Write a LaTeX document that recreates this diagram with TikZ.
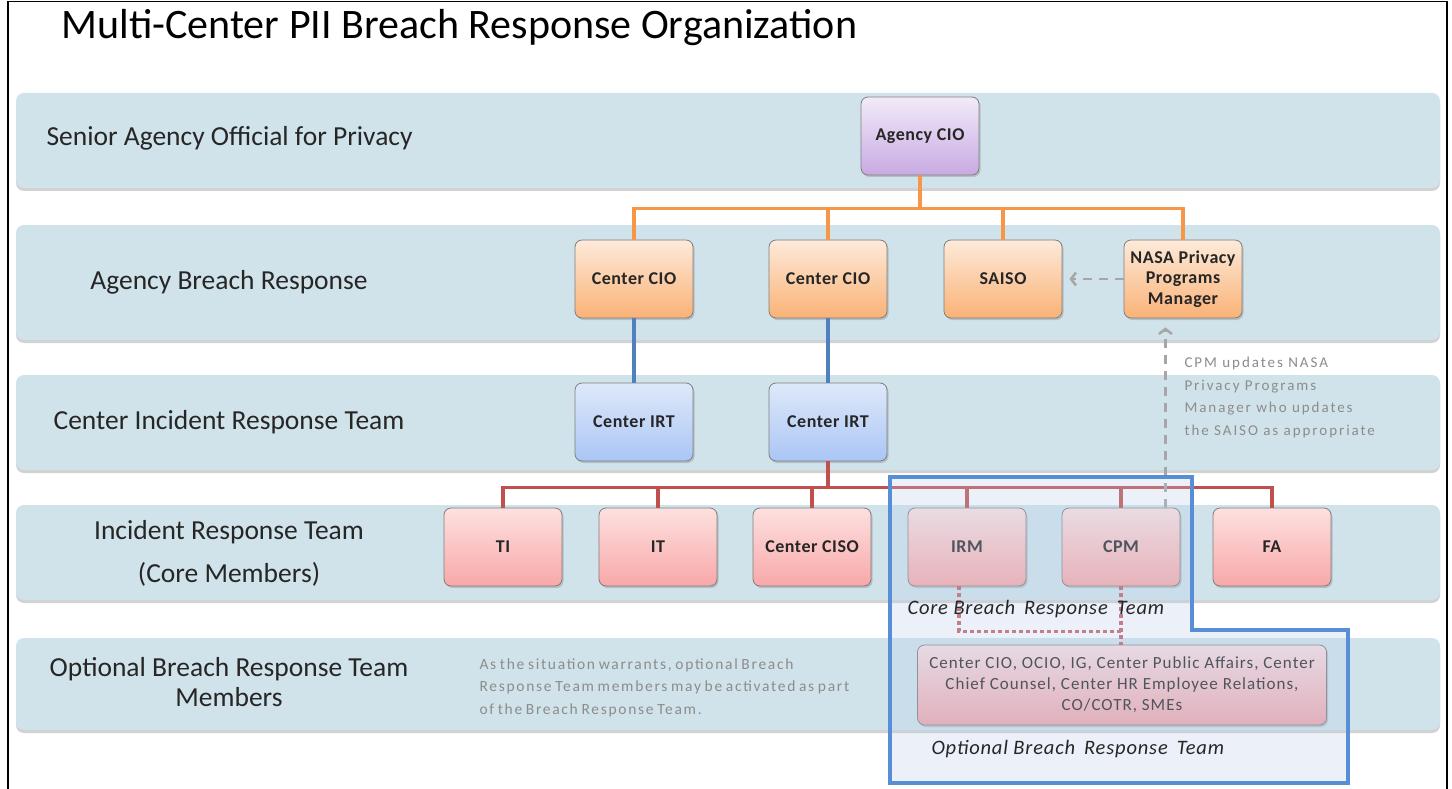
\documentclass[tikz,border=0pt]{standalone}
\usepackage{fontspec}
\setmainfont{Carlito}
\newfontfamily\notefont[LetterSpace=11,WordSpace=0.7]{Carlito}
\newfontfamily\spacedfont[LetterSpace=13]{Carlito}
\newfontfamily\boxfont[LetterSpace=3]{Carlito}
\newfontfamily\optfont[LetterSpace=6]{Carlito}
\newfontfamily\teamfont[LetterSpace=4]{Carlito}
\usetikzlibrary{shadows,arrows.meta,calc}

\definecolor{bandc}{RGB}{209,227,234}
\definecolor{orangeln}{RGB}{247,150,70}
\definecolor{blueln}{RGB}{79,129,189}
\definecolor{redln}{RGB}{192,80,77}
\definecolor{dotln}{RGB}{200,95,100}
\definecolor{grayln}{RGB}{166,166,166}
\definecolor{graytxt}{RGB}{140,140,140}
\definecolor{outlineblue}{RGB}{88,142,214}
\definecolor{overlayc}{RGB}{187,207,235}
\definecolor{boxborder}{RGB}{125,125,125}

\tikzset{
  band/.style={fill=bandc, rounded corners=8pt,
    drop shadow={shadow xshift=0pt, shadow yshift=-3pt, opacity=0.35}},
  bandlabel/.style={font=\fontsize{27.5}{30}\selectfont, align=center, text=black!85},
  orgbox/.style={draw=boxborder, line width=0.8pt, rounded corners=7pt,
    minimum width=118pt, minimum height=78pt, align=center,
    font=\boxfont\bfseries\fontsize{18}{20.5}\selectfont, text=black!85,
    drop shadow={shadow xshift=1.5pt, shadow yshift=-2pt, opacity=0.35}},
  purplebox/.style={orgbox, top color={rgb,255:red,242;green,234;blue,249}, bottom color={rgb,255:red,200;green,170;blue,226}},
  orangebox/.style={orgbox, top color={rgb,255:red,253;green,234;blue,218}, bottom color={rgb,255:red,250;green,178;blue,118}},
  bluebox/.style={orgbox, top color={rgb,255:red,222;green,232;blue,250}, bottom color={rgb,255:red,170;green,198;blue,245}},
  pinkbox/.style={orgbox, top color={rgb,255:red,253;green,224;blue,224}, bottom color={rgb,255:red,249;green,168;blue,168}},
  orangelink/.style={draw=orangeln, line width=3.5pt},
  bluelink/.style={draw=blueln, line width=3.5pt},
  redlink/.style={draw=redln, line width=3.5pt},
  dotlink/.style={draw=dotln, line width=3.5pt, dash pattern=on 3.5pt off 3.5pt},
  updatelink/.style={draw=grayln, line width=2.5pt, dash pattern=on 9pt off 7pt,
    -{Straight Barb[length=5pt,width=13pt,line width=2.5pt]}, shorten >=9pt},
  graynote/.style={text=graytxt, align=left, anchor=north west},
  teamlabel/.style={font=\teamfont\itshape\fontsize{20.5}{22}\selectfont, text=black!85, anchor=west}
}

\begin{document}
\begin{tikzpicture}[x=1pt,y=-1pt]
\useasboundingbox (0,0) rectangle (1452,789);
\fill[white] (0,0) rectangle (1452,789);

% page frame
\draw[line width=1.5pt] (8,792) -- (8,1.5) -- (1447,1.5) -- (1447,792);

% title
\node[anchor=west, font=\fontsize{42}{46}\selectfont] (title) at (58,28) {Multi-Center PII Breach Response Organization};

% level bands
\path[band] (16,93) rectangle (1440,188);
\path[band] (16,225) rectangle (1440,340);
\path[band] (16,375) rectangle (1440,470);
\path[band] (16,505) rectangle (1440,600);
\path[band] (16,638) rectangle (1440,730);

% level labels
\node[bandlabel, anchor=west] (l1) at (43,138) {Senior Agency Official for Privacy};
\node[bandlabel] (l2) at (229,282) {Agency Breach Response};
\node[bandlabel] (l3) at (229,422) {Center Incident Response Team};
\node[bandlabel, font=\fontsize{27.5}{43}\selectfont] (l4) at (229,553) {Incident Response Team\\(Core Members)};
\node[bandlabel] (l5) at (229,682) {Optional Breach Response Team\\Members};

\node[graynote, font=\notefont\fontsize{15.5}{22.5}\selectfont] (desc) at (476,655)
  {As the situation warrants, optional Breach\\Response Team members may be activated as part\\of the Breach Response Team.};

% organisation boxes
\node[purplebox] (acio) at (920,136) {Agency CIO};

\node[orangebox] (cio1) at (634,279) {Center CIO};
\node[orangebox] (cio2) at (828,279) {Center CIO};
\node[orangebox] (saiso) at (1003,279) {SAISO};
\node[orangebox] (nppm) at (1183,279) {NASA Privacy\\Programs\\Manager};

\node[bluebox] (irt1) at (634,422) {Center IRT};
\node[bluebox] (irt2) at (828,422) {Center IRT};

\node[pinkbox] (ti) at (503,547) {TI};
\node[pinkbox] (it) at (658,547) {IT};
\node[pinkbox] (ciso) at (812,547) {Center CISO};
\node[pinkbox] (irm) at (967,547) {IRM};
\node[pinkbox] (cpm) at (1121,547) {CPM};
\node[pinkbox] (fa) at (1272,547) {FA};

\node[pinkbox, minimum width=409pt, minimum height=80pt, font=\optfont\fontsize{17}{21}\selectfont,
  top color={rgb,255:red,248;green,222;blue,226}, bottom color={rgb,255:red,240;green,165;blue,170}]
  (opt) at (1122,685) {Center CIO, OCIO, IG, Center Public Affairs, Center\\Chief Counsel, Center HR Employee Relations,\\CO/COTR, SMEs};

% reporting lines
\draw[orangelink] (acio.south) -- ++(0,33) coordinate (obus);
\draw[orangelink] (cio1.north) |- (obus) -| (nppm.north);
\draw[orangelink] (cio2.north) -- (cio2.north |- obus);
\draw[orangelink] (saiso.north) -- (saiso.north |- obus);

\draw[bluelink] (cio1.south) -- (irt1.north);
\draw[bluelink] (cio2.south) -- (irt2.north);

\draw[redlink] (irt2.south) -- ++(0,26) coordinate (rbus);
\draw[redlink] (ti.north) |- (rbus) -| (fa.north);
\foreach \n in {it,ciso,irm,cpm}
  \draw[redlink] (\n.north) -- (\n.north |- rbus);

% optional team links
\coordinate (irmfoot) at ($(irm.south)+(-8,0)$);
\coordinate (dotjoin) at ($(irmfoot)+(0,45)$);
\draw[dotlink] (irmfoot) -- (dotjoin) -- (dotjoin -| cpm.south);
\draw[dotlink] (cpm.south) -- (cpm.south |- opt.north);

% update path CPM -> NASA PPM -> SAISO
\coordinate (cpmtap) at ($(cpm.north east)+(-15,0)$);
\draw[updatelink] (cpmtap) -- (cpmtap |- nppm.south);
\draw[updatelink, shorten >=7pt] (nppm.west) -- (saiso.east);

\node[graynote, font=\spacedfont\fontsize{15}{22.5}\selectfont] (note) at (1181,354)
  {CPM updates NASA\\Privacy Programs\\Manager who updates\\the SAISO as appropriate};

% breach response team region
\fill[overlayc, opacity=0.28] (890,477) -- (1192,477) -- (1192,630) -- (1348,630) -- (1348,783) -- (890,783) -- cycle;
\draw[outlineblue, line width=3.5pt, line join=miter] (890,477) -- (1192,477) -- (1192,630) -- (1348,630) -- (1348,783) -- (890,783) -- cycle;

\node[teamlabel] (core) at (904,609) {Core Breach\hspace{9pt}Response\hspace{9pt}Team};
\node[teamlabel] (optl) at (928,749) {Optional Breach\hspace{9pt}Response\hspace{9pt}Team};
\end{tikzpicture}
\end{document}
